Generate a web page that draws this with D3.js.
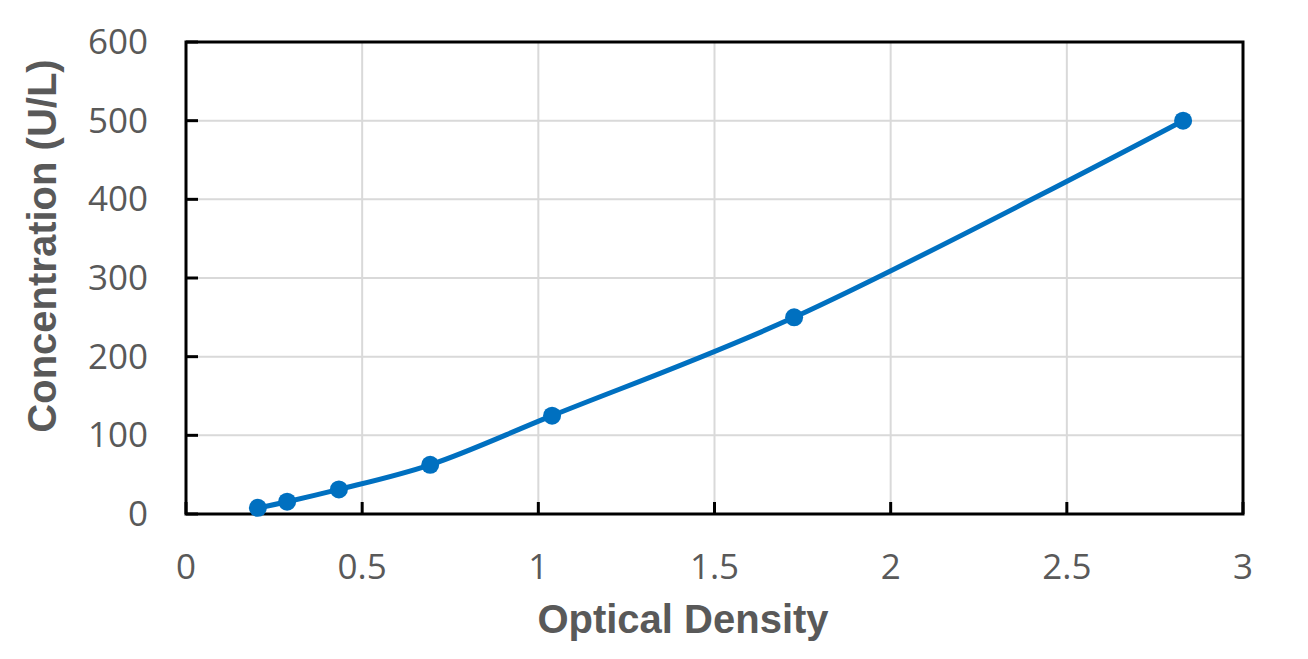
<!DOCTYPE html>
<html>
<head>
<meta charset="utf-8">
<script src="https://cdn.jsdelivr.net/npm/d3@7"></script>
<style>
  body { margin: 0; background: #fff; }
  text { fill: #595959; }
  .tick-label { font-family: "Open Sans", sans-serif; font-size: 35px; }
  .axis-title { font-family: "Liberation Sans", Arial, sans-serif; font-size: 40px; font-weight: bold; }
</style>
</head>
<body>
<script>
//Chart data
const opticalDensity = [0.204, 0.287, 0.434, 0.693, 1.039, 1.726, 2.83];
const concentration = [7.8, 15.6, 31.25, 62.5, 125, 250, 500];
const xTicks = [0, 0.5, 1, 1.5, 2, 2.5, 3];
const yTicks = [0, 100, 200, 300, 400, 500, 600];

const width = 1308;
const height = 659;
const margin = {top: 42, right: 65, bottom: 145, left: 186};

const svg = d3.select("body")
    .append("svg")
    .attr("width", width)
    .attr("height", height);

//Scales
const x = d3.scaleLinear()
    .domain([0, 3])
    .range([margin.left, width - margin.right]);
const y = d3.scaleLinear()
    .domain([0, 600])
    .range([height - margin.bottom, margin.top]);

//Gridlines
svg.append("g")
    .selectAll("line")
    .data(yTicks.slice(1))
    .enter()
    .append("line")
    .attr("x1", x(0)).attr("x2", x(3))
    .attr("y1", d => y(d)).attr("y2", d => y(d))
    .attr("stroke", "#d9d9d9")
    .attr("stroke-width", 2);

svg.append("g")
    .selectAll("line")
    .data(xTicks.slice(1))
    .enter()
    .append("line")
    .attr("x1", d => x(d)).attr("x2", d => x(d))
    .attr("y1", y(0)).attr("y2", y(600))
    .attr("stroke", "#d9d9d9")
    .attr("stroke-width", 2);

//Inner ticks
svg.append("g")
    .selectAll("line")
    .data(yTicks)
    .enter()
    .append("line")
    .attr("x1", x(0)).attr("x2", x(0) + 12)
    .attr("y1", d => y(d)).attr("y2", d => y(d))
    .attr("stroke", "#000")
    .attr("stroke-width", 3);

svg.append("g")
    .selectAll("line")
    .data(xTicks)
    .enter()
    .append("line")
    .attr("x1", d => x(d)).attr("x2", d => x(d))
    .attr("y1", y(0)).attr("y2", y(0) - 12)
    .attr("stroke", "#000")
    .attr("stroke-width", 3);

//Plot border
svg.append("rect")
    .attr("x", x(0))
    .attr("y", y(600))
    .attr("width", x(3) - x(0))
    .attr("height", y(0) - y(600))
    .attr("fill", "none")
    .attr("stroke", "#000")
    .attr("stroke-width", 3);

//Tick labels
svg.append("g")
    .selectAll("text")
    .data(yTicks)
    .enter()
    .append("text")
    .attr("class", "tick-label")
    .attr("x", 148)
    .attr("y", d => y(d) + 12)
    .attr("text-anchor", "end")
    .text(d => d);

svg.append("g")
    .selectAll("text")
    .data(xTicks)
    .enter()
    .append("text")
    .attr("class", "tick-label")
    .attr("x", d => x(d))
    .attr("y", 579)
    .attr("text-anchor", "middle")
    .text(d => d);

//Line and markers
const points = opticalDensity.map((d, i) => [d, concentration[i]]);
const line = d3.line()
    .x(d => x(d[0]))
    .y(d => y(d[1]))
    .curve(d3.curveCatmullRom.alpha(0.5));

svg.append("path")
    .datum(points)
    .attr("d", line)
    .attr("fill", "none")
    .attr("stroke", "#0070c0")
    .attr("stroke-width", 5);

svg.append("g")
    .selectAll("circle")
    .data(points)
    .enter()
    .append("circle")
    .attr("cx", d => x(d[0]))
    .attr("cy", d => y(d[1]))
    .attr("r", 9)
    .attr("fill", "#0070c0");

//Axis titles
svg.append("text")
    .attr("class", "axis-title")
    .attr("x", 683)
    .attr("y", 633)
    .attr("text-anchor", "middle")
    .text("Optical Density");

svg.append("text")
    .attr("class", "axis-title")
    .attr("transform", `translate(56, 246) rotate(-90)`)
    .attr("text-anchor", "middle")
    .text("Concentration (U/L)");
</script>
</body>
</html>
